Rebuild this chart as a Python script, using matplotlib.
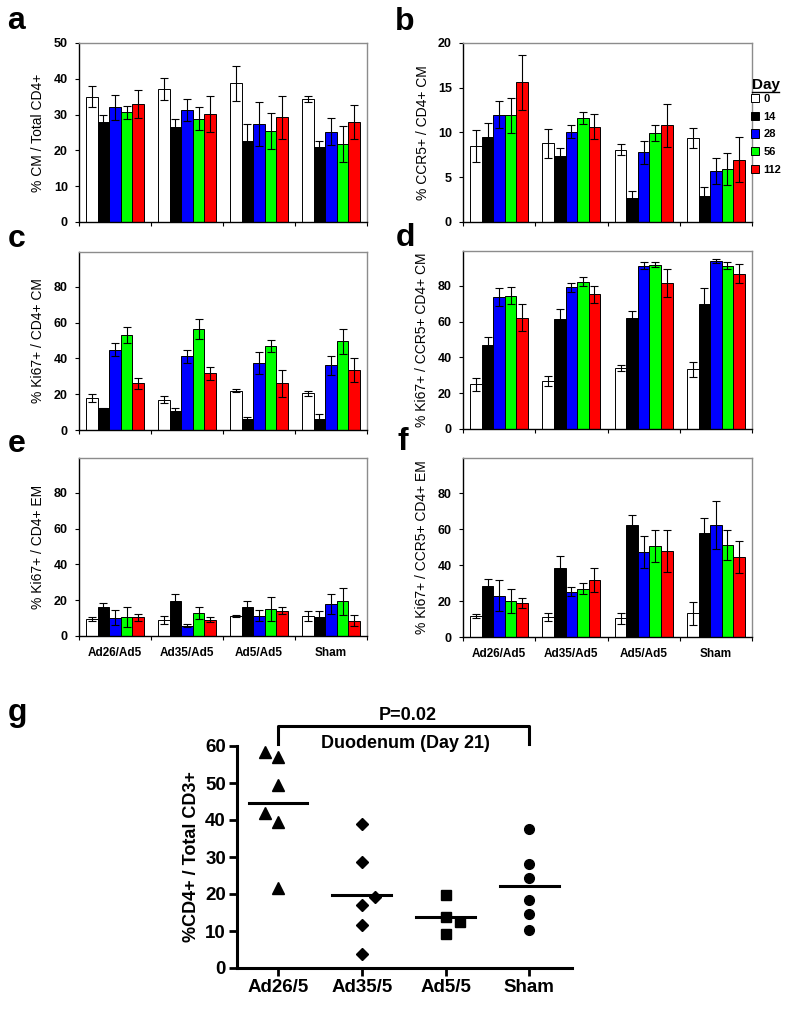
import numpy as np
import matplotlib
matplotlib.use("Agg")
import matplotlib.pyplot as plt
from matplotlib.patches import Patch
from matplotlib.lines import Line2D

plt.rcParams['font.family'] = ['Liberation Sans', 'DejaVu Sans']

# ---- data (bar panels a-f): rows = group, cols = day ----
groups = ["Ad26/Ad5", "Ad35/Ad5", "Ad5/Ad5", "Sham"]
days = ["0", "14", "28", "56", "112"]
day_colors = ["white", "black", "#0000ff", "#00ff00", "#ff0000"]

a_vals = [[35.0, 27.8, 32.0, 30.6, 33.0],
          [37.2, 26.4, 31.2, 28.8, 30.1],
          [38.8, 22.6, 27.3, 25.4, 29.3],
          [34.3, 20.9, 25.2, 21.8, 27.9]]
a_err = [[2.9, 2.0, 3.4, 1.7, 3.9],
         [3.0, 2.3, 3.1, 3.2, 5.0],
         [4.9, 4.7, 6.1, 5.0, 6.0],
         [0.8, 1.7, 3.8, 5.0, 4.7]]

b_vals = [[8.5, 9.5, 12.0, 11.9, 15.6],
          [8.8, 7.4, 10.1, 11.6, 10.65],
          [8.1, 2.7, 7.8, 9.9, 10.8],
          [9.35, 2.9, 5.75, 5.9, 6.95]]
b_err = [[1.8, 1.6, 1.5, 2.0, 3.05],
         [1.6, 0.9, 0.7, 0.7, 1.4],
         [0.6, 0.8, 1.3, 0.9, 2.4],
         [1.1, 1.0, 1.45, 1.8, 2.5]]

c_vals = [[17.7, 12.1, 44.8, 53.0, 26.0],
          [16.9, 10.4, 41.1, 56.2, 31.6],
          [22.0, 6.3, 37.4, 47.1, 26.0],
          [20.5, 6.3, 36.1, 49.5, 33.3]]
c_err = [[2.2, 0.3, 3.6, 4.6, 3.2],
         [1.9, 2.0, 3.7, 5.6, 3.6],
         [0.7, 1.0, 6.1, 3.3, 7.3],
         [1.5, 2.4, 5.4, 7.1, 6.7]]

d_vals = [[24.9, 47.1, 73.7, 74.6, 62.3],
          [26.8, 61.4, 79.1, 82.2, 75.2],
          [33.9, 61.8, 91.3, 91.9, 81.7],
          [33.3, 70.1, 94.0, 91.2, 86.9]]
d_err = [[3.4, 4.6, 5.0, 5.0, 7.3],
         [3.0, 5.4, 2.6, 2.5, 5.0],
         [1.7, 4.3, 2.0, 1.3, 8.0],
         [4.3, 8.8, 1.3, 2.0, 5.2]]

e_vals = [[9.3, 16.4, 10.3, 10.8, 10.5],
          [9.0, 19.8, 5.8, 12.9, 9.2],
          [11.0, 16.4, 11.4, 15.1, 14.2],
          [11.0, 10.8, 17.9, 19.3, 8.6]]
e_err = [[1.1, 2.0, 4.3, 5.6, 1.9],
         [2.4, 3.6, 0.8, 3.4, 1.5],
         [0.6, 3.2, 3.0, 6.8, 2.1],
         [2.8, 3.0, 5.6, 7.8, 3.0]]

f_vals = [[11.7, 28.6, 23.0, 20.0, 18.9],
          [11.3, 38.2, 25.2, 26.9, 31.7],
          [10.4, 62.2, 47.3, 50.5, 47.9],
          [13.2, 57.9, 62.3, 51.0, 44.2]]
f_err = [[1.3, 3.9, 8.5, 6.9, 3.0],
         [2.2, 6.9, 2.6, 3.2, 6.9],
         [3.1, 5.5, 8.7, 8.7, 11.8],
         [6.3, 8.5, 13.2, 8.4, 8.9]]

# ---- data (panel g) ----
g_groups = ["Ad26/5", "Ad35/5", "Ad5/5", "Sham"]
g_markers = ["^", "D", "s", "o"]
g_points = [[58.3, 57.0, 49.5, 42.0, 39.5, 21.7],
            [39.0, 28.7, 19.1, 16.9, 11.6, 3.7],
            [19.6, 13.7, 12.4, 9.1],
            [37.5, 28.0, 24.2, 18.5, 14.6, 10.4]]
g_offsets = [[-0.16, 0.0, 0.0, -0.16, 0.0, 0.0],
             [0.0, 0.0, 0.16, 0.0, 0.0, 0.0],
             [0.0, 0.0, 0.17, 0.0],
             [0.0, 0.0, 0.0, 0.0, 0.0, 0.0]]

fig = plt.figure(figsize=(8, 10.09), dpi=100)
H = 1009.0


def box(x0, y_top, x1, y_bot):
    return [x0 / 800, 1 - y_bot / H, (x1 - x0) / 800, (y_bot - y_top) / H]


def bar_panel(rect, vals, errs, ylabel, ymax, yticks, show_groups):
    ax = fig.add_axes(rect)
    vals = np.array(vals)
    errs = np.array(errs)
    x = np.arange(len(groups))
    w = 0.16
    for j in range(len(days)):
        ax.bar(x + (j - 2) * w, vals[:, j], w, color=day_colors[j],
               edgecolor="black", linewidth=0.7, zorder=2)
        ax.errorbar(x + (j - 2) * w, vals[:, j], yerr=errs[:, j], fmt="none",
                    ecolor="black", elinewidth=0.8, capsize=2.6, capthick=0.8, zorder=3)
    ax.set_xlim(-0.5, 3.5)
    ax.set_ylim(0, ymax)
    ax.set_yticks(yticks)
    ax.set_xticks([-0.5, 0.5, 1.5, 2.5, 3.5])
    ax.set_xticklabels([])
    if show_groups:
        ax.set_xticks(x, minor=True)
        ax.set_xticklabels(groups, minor=True, fontsize=8.5, fontweight="bold")
        ax.tick_params(axis="x", which="minor", length=0, pad=8)
    ax.tick_params(axis="both", which="major", direction="out", length=3,
                   width=0.8, labelsize=9)
    ax.tick_params(axis="y", pad=5)
    for t in ax.get_yticklabels():
        t.set_fontweight("bold")
    ax.spines["top"].set_color("#8c8c8c")
    ax.spines["right"].set_color("#8c8c8c")
    for s in ax.spines.values():
        s.set_linewidth(1.0)
    ax.set_ylabel(ylabel, fontsize=10, labelpad=6)
    return ax


tick100 = [0, 20, 40, 60, 80]
bar_panel(box(79, 43, 367, 222), a_vals, a_err, "% CM / Total CD4+", 50, [0, 10, 20, 30, 40, 50], False)
ax_b = bar_panel(box(463, 43, 752, 222), b_vals, b_err, "% CCR5+ / CD4+ CM", 20, [0, 5, 10, 15, 20], False)
bar_panel(box(79, 252, 367, 430), c_vals, c_err, "% Ki67+ / CD4+ CM", 99.5, tick100, False)
bar_panel(box(463, 251, 752, 429), d_vals, d_err, "% Ki67+ / CCR5+ CD4+ CM", 99.5, tick100, False)
bar_panel(box(79, 458, 367, 636), e_vals, e_err, "% Ki67+ / CD4+ EM", 99.5, tick100, True)
bar_panel(box(463, 458, 752, 637), f_vals, f_err, "% Ki67+ / CCR5+ CD4+ EM", 99.5, tick100, True)

# legend for days
handles = [Patch(facecolor=c, edgecolor="black", linewidth=0.7) for c in day_colors]
fig.legend(handles, days, loc="upper left", bbox_to_anchor=(751 / 800, 1 - 94 / H),
           frameon=False, handlelength=0.75, handleheight=0.75, handletextpad=0.35,
           labelspacing=0.69, borderaxespad=0, borderpad=0,
           prop={"weight": "bold", "size": 8})
fig.text(752 / 800, 1 - 89 / H, "Day", fontsize=11, fontweight="bold", ha="left", va="baseline")
fig.add_artist(Line2D([752 / 800, 779 / 800], [1 - 92 / H, 1 - 92 / H], color="black", lw=1.0))

# panel g
axg = fig.add_axes(box(237, 746, 572, 968))
xg = np.arange(len(g_groups))
for i in range(len(g_groups)):
    pts = np.array(g_points[i])
    xs = xg[i] + np.array(g_offsets[i])
    ms = 9 if g_markers[i] == "^" else 7
    if g_markers[i] == "D":
        ms = 6
    axg.plot(xs, pts, linestyle="none", marker=g_markers[i], color="black",
             markersize=ms, clip_on=False, zorder=3)
    axg.plot([xg[i] - 0.35, xg[i] + 0.35], [pts.mean(), pts.mean()], color="black", lw=2.2)
axg.set_xlim(-0.49, 3.51)
axg.set_ylim(0, 60)
axg.set_yticks([0, 10, 20, 30, 40, 50, 60])
axg.set_xticks(xg)
axg.set_xticklabels(g_groups, fontsize=13.5, fontweight="bold")
for t in axg.get_yticklabels():
    t.set_fontweight("bold")
axg.tick_params(axis="both", direction="out", length=6, width=2, labelsize=13.5, pad=2)
axg.spines["top"].set_visible(False)
axg.spines["right"].set_visible(False)
axg.spines["left"].set_linewidth(2.2)
axg.spines["bottom"].set_linewidth(2.2)
axg.set_ylabel("%CD4+ / Total CD3+", fontsize=13, fontweight="bold", labelpad=4)
axg.plot([0, 0, 3, 3], [60.6, 65.5, 65.5, 60.6], color="black", lw=2.2, clip_on=False)
axg.text(1.55, 66.0, "P=0.02", ha="center", va="bottom", fontsize=13, fontweight="bold")
axg.text(1.52, 60.6, "Duodenum (Day 21)", ha="center", va="center", fontsize=13, fontweight="bold")

# panel letters
for lab, x, yb in [("a", 7, 29), ("b", 395, 30), ("c", 8, 247), ("d", 396, 246),
                   ("e", 8, 452), ("f", 398, 450), ("g", 8, 721)]:
    fig.text(x / 800, 1 - yb / H, lab, fontsize=23, fontweight="bold", ha="left", va="baseline")

fig.savefig("out.png", dpi=100)
